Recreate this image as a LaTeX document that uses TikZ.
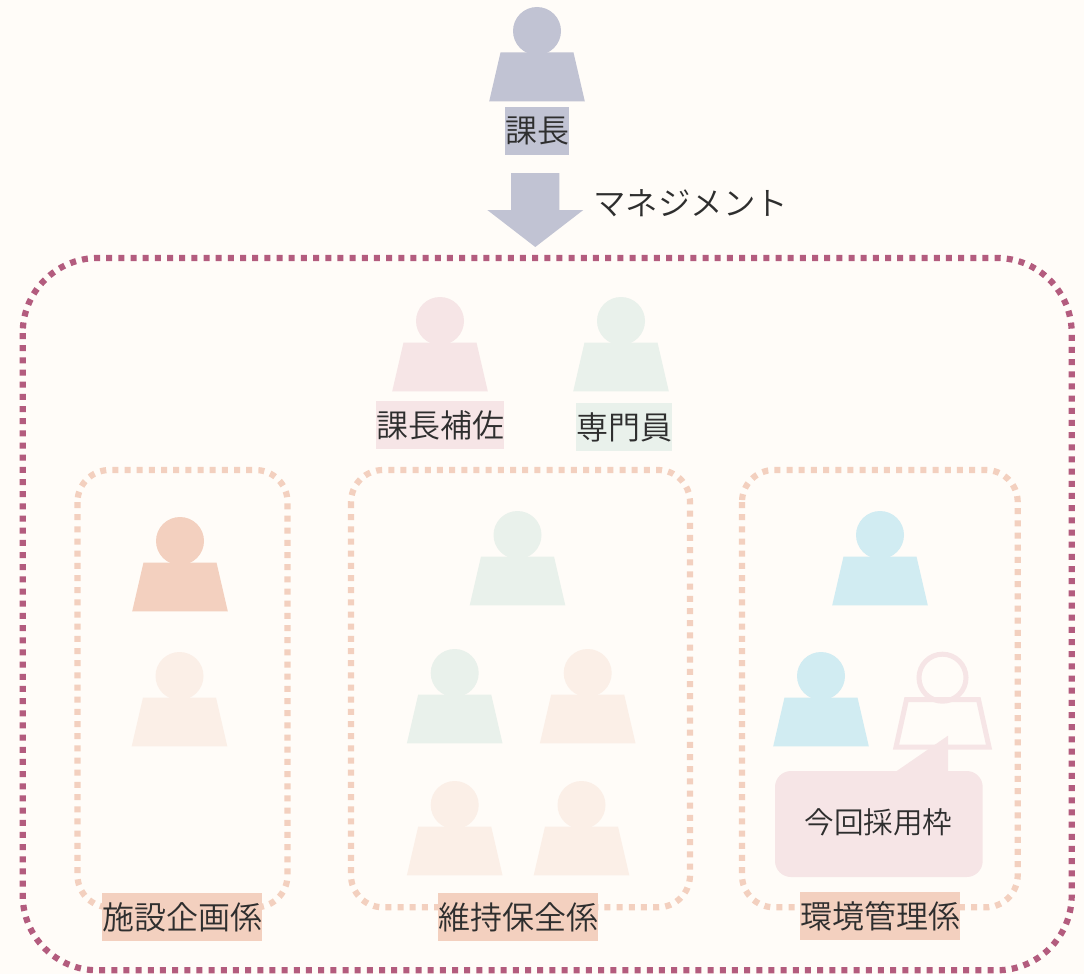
\documentclass[tikz,border=0pt]{standalone}
\usepackage{fontspec}
\setmainfont{Noto Sans CJK JP DemiLight}
\definecolor{bgc}{HTML}{FFFCF8}
\definecolor{navyc}{HTML}{C1C3D3}
\definecolor{pinkc}{HTML}{F6E5E6}
\definecolor{greenc}{HTML}{E9F1EB}
\definecolor{peachc}{HTML}{F3D0BF}
\definecolor{lpeachc}{HTML}{FBEFE7}
\definecolor{bluec}{HTML}{D1ECF2}
\definecolor{wineec}{HTML}{B35C7E}
\definecolor{txtc}{HTML}{2E2E2E}
\tikzset{
  lab/.style={inner sep=0pt,minimum height=48pt,text=txtc,font=\fontsize{32}{32}\selectfont,anchor=center},
  outerbox/.style={draw=wineec,line width=6.2pt,dash pattern=on 6pt off 6.17pt,rounded corners=75pt},
  innerbox/.style={draw=peachc,line width=6.2pt,dash pattern=on 6pt off 6.17pt,rounded corners=32pt},
}
% person: x centre, top of head, colour
\newcommand{\psn}[3]{%
  \fill[#3] (#1,#2+24) circle[radius=24];
  \fill[#3] (#1-36.5,#2+45.5) -- (#1+36.5,#2+45.5) -- (#1+47.8,#2+94.3) -- (#1-47.8,#2+94.3) -- cycle;
}
\begin{document}
\begin{tikzpicture}[x=1pt,y=-1pt]
\useasboundingbox (0,0) rectangle (1084,974);
\fill[bgc] (0,0) rectangle (1084,974);
% dotted frames
\draw[outerbox] (22.7,258) rectangle (1071.7,970.3);
\draw[innerbox] (77.5,470) rectangle (287.5,907.3);
\draw[innerbox] (351,470) rectangle (690,907.3);
\draw[innerbox] (742,470) rectangle (1017.7,907.3);
% people
\psn{537}{7}{navyc}
\psn{440}{297}{pinkc}
\psn{621}{297}{greenc}
\psn{180}{517}{peachc}
\psn{179.5}{652}{lpeachc}
\psn{517.5}{511}{greenc}
\psn{454.7}{649}{greenc}
\psn{587.7}{649}{lpeachc}
\psn{454.7}{781}{lpeachc}
\psn{581.5}{781}{lpeachc}
\psn{880}{511}{bluec}
\psn{821}{652}{bluec}
% open position (outlined)
\draw[pinkc,line width=5pt] (942.5,677.7) circle[radius=23.5];
\draw[pinkc,line width=5pt] (906.5,699.5) -- (978.5,699.5) -- (989,747) -- (896,747) -- cycle;
% callout
\fill[pinkc,rounded corners=16pt] (775,771) rectangle (982.7,877);
\fill[pinkc] (896,771.5) -- (948,735.7) -- (948,771.5) -- cycle;
\node[lab,font=\fontsize{29.6}{30}\selectfont] (callout) at (878.5,822) {今回採用枠};
% arrow
\fill[navyc] (511,173) -- (559.3,173) -- (559.3,210) -- (583.3,210) -- (535.3,247) -- (487.3,210) -- (511,210) -- cycle;
\node[lab,anchor=west,font=\fontsize{32.5}{32}\selectfont] (mgmt) at (593,203) {マネジメント};
% labels
\node[lab,fill=navyc,minimum width=64pt] (chief) at (537,131) {課長};
\node[lab,fill=pinkc,minimum width=128pt] (deputy) at (440,425) {課長補佐};
\node[lab,fill=greenc,minimum width=96pt] (expert) at (624,427) {専門員};
\node[lab,fill=peachc,minimum width=160pt] (plan) at (182,917) {施設企画係};
\node[lab,fill=peachc,minimum width=160pt] (maint) at (518,917) {維持保全係};
\node[lab,fill=peachc,minimum width=160pt] (env) at (880,916) {環境管理係};
\end{tikzpicture}
\end{document}
